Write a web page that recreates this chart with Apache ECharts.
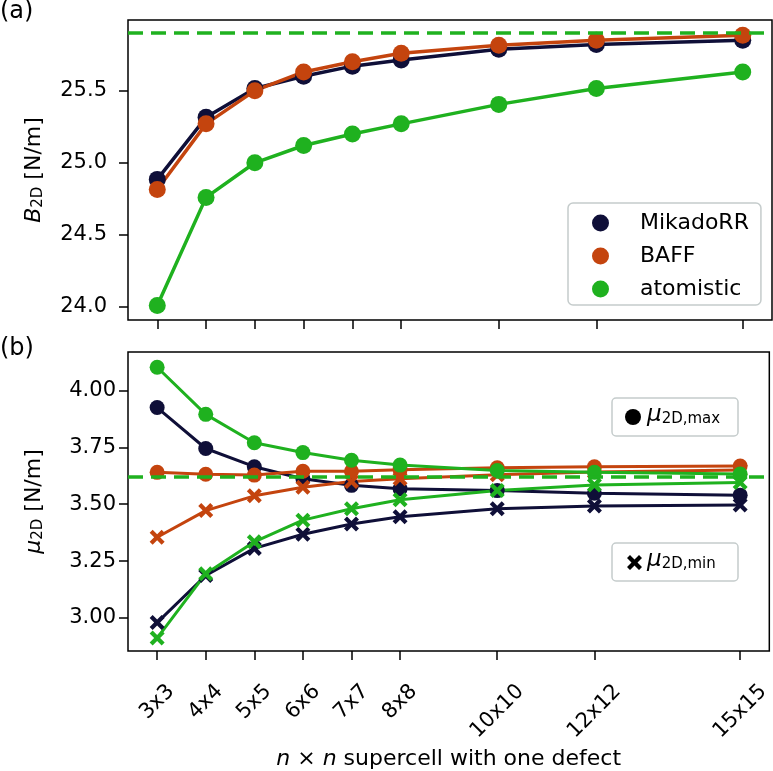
<!DOCTYPE html>
<html>
<head>
<meta charset="utf-8">
<script src="https://cdn.jsdelivr.net/npm/echarts@6/dist/echarts.min.js"></script>
<style>
  html, body { margin: 0; padding: 0; background: #fff; }
  #chart { width: 773px; height: 771px; }
</style>
</head>
<body>
<div id="chart"></div>
<script>
// supercell sizes n (x positions) and their tick labels
const nVals = [3, 4, 5, 6, 7, 8, 10, 12, 15];
const tickLabels = ["3x3", "4x4", "5x5", "6x6", "7x7", "8x8", "10x10", "12x12", "15x15"];

// (a) B_2D [N/m]
const bMikado = [24.885, 25.315, 25.515, 25.6, 25.67, 25.713, 25.787, 25.82, 25.85];
const bBaff = [24.815, 25.27, 25.5, 25.63, 25.7, 25.76, 25.815, 25.85, 25.885];
const bAtom = [24.01, 24.76, 25.0, 25.12, 25.2, 25.27, 25.405, 25.515, 25.63];
const bRef = 25.9;
const bTicks = [24.0, 24.5, 25.0, 25.5];

// (b) mu_2D [N/m]
const muMaxMikado = [3.925, 3.745, 3.665, 3.612, 3.583, 3.568, 3.56, 3.548, 3.54];
const muMaxBaff = [3.64, 3.632, 3.628, 3.645, 3.645, 3.652, 3.66, 3.665, 3.668];
const muMaxAtom = [4.102, 3.895, 3.77, 3.727, 3.693, 3.672, 3.648, 3.64, 3.633];
const muMinMikado = [2.98, 3.187, 3.306, 3.368, 3.413, 3.445, 3.48, 3.492, 3.497];
const muMinBaff = [3.355, 3.472, 3.537, 3.575, 3.6, 3.612, 3.63, 3.642, 3.65];
const muMinAtom = [2.912, 3.195, 3.335, 3.43, 3.48, 3.52, 3.56, 3.585, 3.595];
const muRef = 3.62;
const muTicks = [3.0, 3.25, 3.5, 3.75, 4.0];

const cDark = "#0f0f38";
const cOrange = "#c4440e";
const cGreen = "#1fb11f";
const crossPath = "path://M0,4 L4,0 L10,6 L16,0 L20,4 L14,10 L20,16 L16,20 L10,14 L4,20 L0,16 L6,10 Z";
const font = "DejaVu Sans";
const tickFont = 21;

function pts(vals) {
  return nVals.map((n, i) => [n, vals[i]]);
}

// X shape as polygon points, for the legend box
function crossPoints(x, y, s) {
  const p = [[0, 4], [4, 0], [10, 6], [16, 0], [20, 4], [14, 10], [20, 16], [16, 20], [10, 14], [4, 20], [0, 16], [6, 10]];
  return p.map((q) => [x + q[0] * s / 20, y + q[1] * s / 20]);
}

// rotated x labels: pad longer labels so every label's box top lines up (like matplotlib)
const xRich = {};
tickLabels.forEach((t, i) => {
  const p = (t.length - 3) * 0.636 * tickFont / 2;
  xRich["p" + i] = { fontFamily: font, fontSize: tickFont, color: "#000", padding: [p, p, 0, 0] };
});

function refLine(v) {
  return {
    silent: true,
    symbol: "none",
    label: { show: false },
    lineStyle: { color: cGreen, width: 3.5, type: [15, 8] },
    data: [{ yAxis: v }],
  };
}

function topSeries(name, vals, color) {
  return {
    name: name, type: "line", xAxisIndex: 0, yAxisIndex: 0,
    data: pts(vals), symbol: "circle", symbolSize: 17,
    lineStyle: { color: color, width: 3.5 }, itemStyle: { color: color },
  };
}

function botSeries(name, vals, color, cross) {
  return {
    name: name, type: "line", xAxisIndex: 1, yAxisIndex: 1,
    data: pts(vals), symbol: cross ? crossPath : "circle", symbolSize: 15,
    lineStyle: { color: color, width: 3 }, itemStyle: { color: color },
  };
}

const xBase = {
  type: "value", min: 2.4, max: 15.6,
  axisLine: { show: false },
  axisTick: { show: true, inside: false, length: 9, customValues: nVals, lineStyle: { color: "#000", width: 1.5 } },
  splitLine: { show: false },
};

const nameRich = {
  i: { fontFamily: font, fontSize: 22, fontStyle: "italic", color: "#000" },
  s: { fontFamily: font, fontSize: 15, color: "#000", padding: [9, 0, 0, 0] },
};

const yBase = {
  type: "value",
  axisLine: { show: false },
  splitLine: { show: false },
  nameLocation: "middle",
  nameRotate: 90,
  nameGap: 82,
  nameTextStyle: { fontFamily: font, fontSize: 22, color: "#000", rich: nameRich },
};

const chart = echarts.init(document.getElementById("chart"));

const options = {
  animation: false,
  grid: [
    { left: 128, top: 20, width: 644, height: 300, show: true, borderColor: "#000", borderWidth: 1.5 },
    { left: 128, top: 352, width: 644, height: 301, show: true, borderColor: "#000", borderWidth: 1.5 },
  ],
  xAxis: [
    Object.assign({}, xBase, { gridIndex: 0, axisLabel: { show: false } }),
    Object.assign({}, xBase, {
      gridIndex: 1,
      axisLabel: {
        customValues: nVals, rotate: 45, margin: 51,
        align: "center", verticalAlign: "middle",
        fontFamily: font, fontSize: tickFont, color: "#000",
        formatter: (v) => {
          const i = nVals.indexOf(v);
          return "{p" + i + "|" + tickLabels[i] + "}";
        },
        rich: xRich,
      },
      name: "{i|n} × {i|n} supercell with one defect",
      nameLocation: "middle", nameGap: 97,
      nameTextStyle: {
        fontFamily: font, fontSize: 22, color: "#000",
        rich: { i: { fontFamily: font, fontSize: 22, fontStyle: "italic", color: "#000" } },
      },
    }),
  ],
  yAxis: [
    Object.assign({}, yBase, {
      gridIndex: 0, min: 23.91, max: 25.99,
      axisTick: { show: true, length: 9, customValues: bTicks, lineStyle: { color: "#000", width: 1.5 } },
      axisLabel: { customValues: bTicks, fontFamily: font, fontSize: tickFont, color: "#000", margin: 21, formatter: (v) => v.toFixed(1) },
      name: "{i|B}{s|2D} [N/m]",
    }),
    Object.assign({}, yBase, {
      gridIndex: 1, min: 2.855, max: 4.169,
      axisTick: { show: true, length: 9, customValues: muTicks, lineStyle: { color: "#000", width: 1.5 } },
      axisLabel: { customValues: muTicks, fontFamily: font, fontSize: tickFont, color: "#000", margin: 12, formatter: (v) => v.toFixed(2) },
      name: "{i|μ}{s|2D} [N/m]",
    }),
  ],
  legend: {
    data: ["MikadoRR", "BAFF", "atomistic"],
    orient: "vertical", left: 568, top: 203,
    icon: "circle", itemWidth: 17, itemHeight: 17, itemGap: 11,
    padding: [9, 12, 5, 24],
    backgroundColor: "#fff", borderColor: "#c5cccc", borderWidth: 1.5, borderRadius: 5,
    textStyle: { fontFamily: font, fontSize: 22, color: "#000", padding: [0, 0, 0, 26] },
  },
  graphic: [
    { type: "text", x: 0, y: 0, style: { text: "(a)", fontFamily: font, fontSize: 24, fill: "#000" } },
    { type: "text", x: 0, y: 337, style: { text: "(b)", fontFamily: font, fontSize: 24, fill: "#000" } },
    { type: "rect", shape: { x: 612, y: 398, width: 126, height: 38, r: 4 }, style: { fill: "#fff", stroke: "#c5cccc", lineWidth: 1.5 }, z: 10 },
    { type: "circle", shape: { cx: 633, cy: 417, r: 8 }, style: { fill: "#000" }, z: 11 },
    {
      type: "text", x: 647, y: 403, z: 11,
      style: {
        text: "{i|μ}{s|2D,max}",
        rich: {
          i: { fontFamily: font, fontSize: 23, fontStyle: "italic", fill: "#000" },
          s: { fontFamily: font, fontSize: 15, fill: "#000", padding: [9, 0, 0, 0] },
        },
      },
    },
    { type: "rect", shape: { x: 612, y: 543, width: 126, height: 38, r: 4 }, style: { fill: "#fff", stroke: "#c5cccc", lineWidth: 1.5 }, z: 10 },
    { type: "polygon", z: 11, shape: { points: crossPoints(627, 555, 15) }, style: { fill: "#000" } },
    {
      type: "text", x: 647, y: 548, z: 11,
      style: {
        text: "{i|μ}{s|2D,min}",
        rich: {
          i: { fontFamily: font, fontSize: 23, fontStyle: "italic", fill: "#000" },
          s: { fontFamily: font, fontSize: 15, fill: "#000", padding: [9, 0, 0, 0] },
        },
      },
    },
  ],
  series: [
    topSeries("MikadoRR", bMikado, cDark),
    topSeries("BAFF", bBaff, cOrange),
    Object.assign(topSeries("atomistic", bAtom, cGreen), { markLine: refLine(bRef) }),
    botSeries("MikadoRR max", muMaxMikado, cDark, false),
    botSeries("MikadoRR min", muMinMikado, cDark, true),
    botSeries("BAFF max", muMaxBaff, cOrange, false),
    botSeries("BAFF min", muMinBaff, cOrange, true),
    botSeries("atomistic max", muMaxAtom, cGreen, false),
    Object.assign(botSeries("atomistic min", muMinAtom, cGreen, true), { markLine: refLine(muRef) }),
  ],
};

chart.setOption(options);
</script>
</body>
</html>
